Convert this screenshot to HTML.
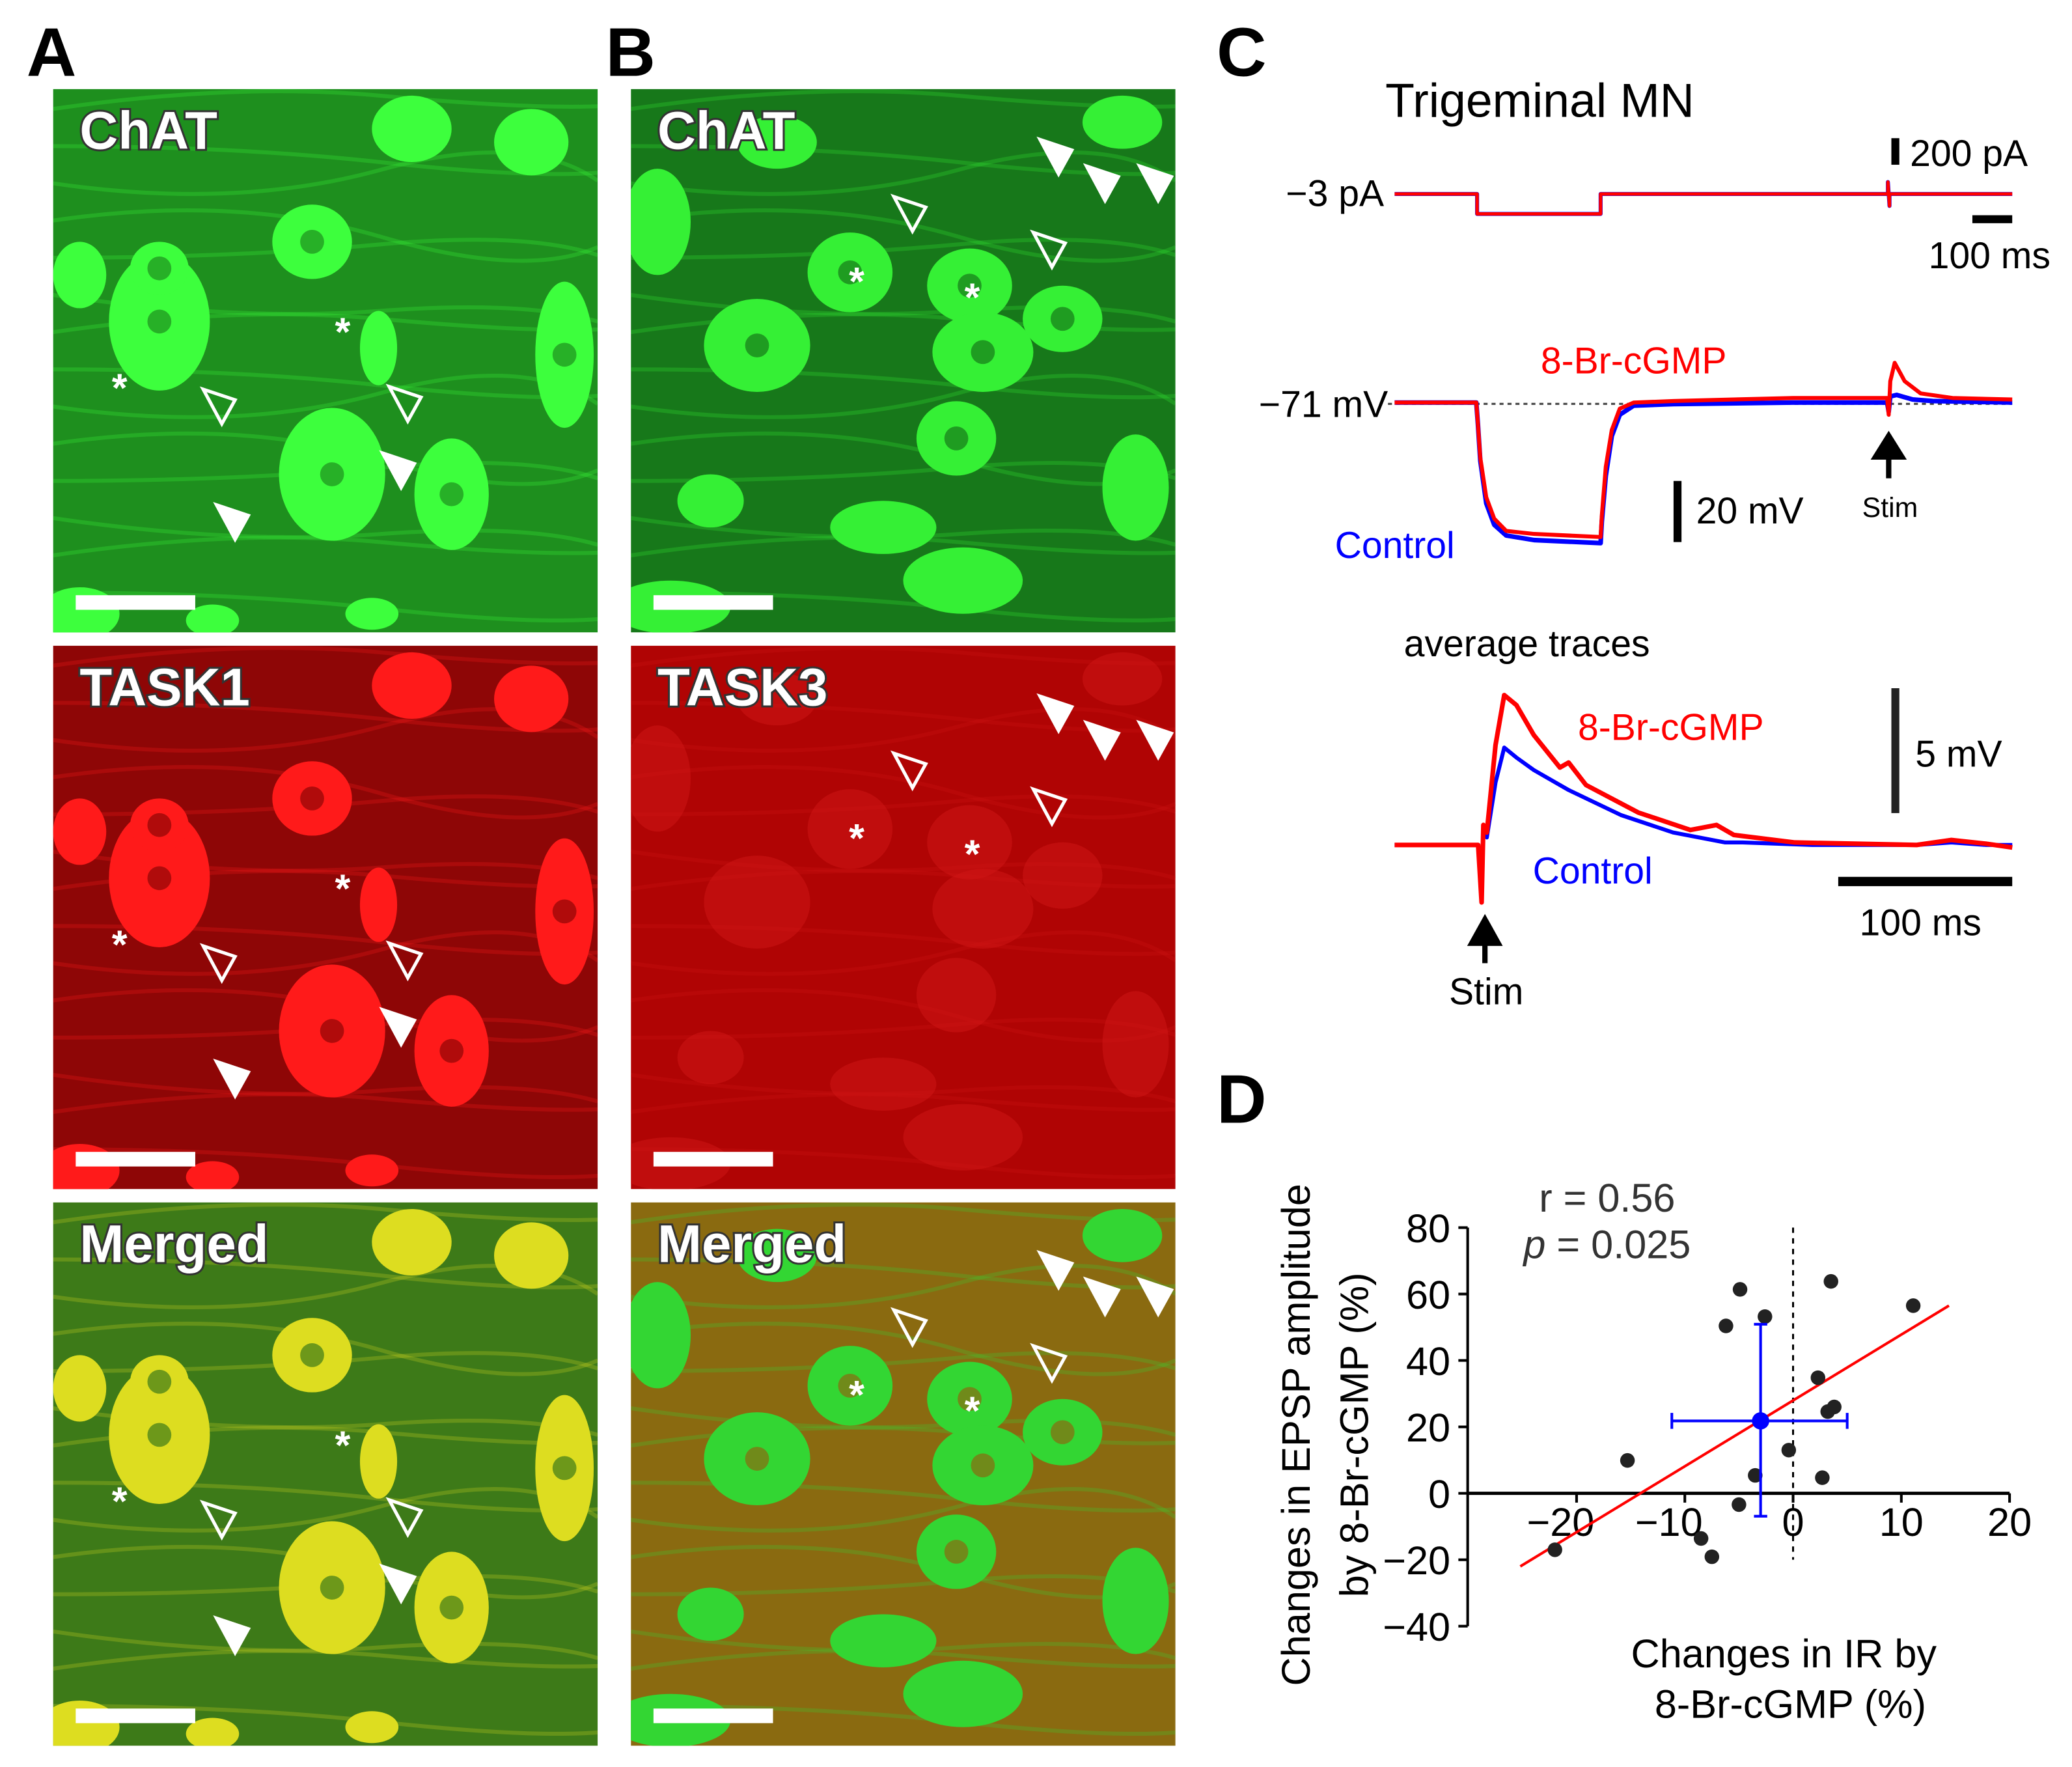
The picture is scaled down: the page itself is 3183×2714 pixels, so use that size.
<!DOCTYPE html>
<html><head><meta charset="utf-8"><style>
html,body{margin:0;padding:0;background:#fff}
svg{display:block}
text{font-family:"Liberation Sans",sans-serif}
.lbl{font-weight:bold;font-size:40px;fill:#fff;stroke:#333;stroke-width:3px;paint-order:stroke}
</style></head><body>
<svg id="fig" xmlns="http://www.w3.org/2000/svg" width="3183" height="2714" viewBox="0 0 1560 1330" preserveAspectRatio="none">
<defs id="defs"></defs>
<g id="imgs"></g>
<text x="20" y="57" font-size="52" font-weight="bold">A</text>
<text x="456" y="57" font-size="52" font-weight="bold">B</text>
<text x="916" y="57" font-size="52" font-weight="bold">C</text>
<text x="916" y="845" font-size="52" font-weight="bold">D</text>

<g id="panelC">
<text x="1043" y="88" font-size="36">Trigeminal MN</text>
<text x="1042" y="155" font-size="28" text-anchor="end">−3 pA</text>
<rect x="1424" y="104" width="6" height="20" fill="#000"/>
<text x="1438" y="125" font-size="28">200 pA</text>
<rect x="1485" y="162" width="30" height="6" fill="#000"/>
<text x="1452" y="202" font-size="28">100 ms</text>
<line x1="1045" y1="304" x2="1515" y2="304" stroke="#444" stroke-width="1.5" stroke-dasharray="3,3"/>
<text x="1045" y="314" font-size="28" text-anchor="end">−71 mV</text>
<text x="1160" y="281" font-size="28" fill="#f00">8-Br-cGMP</text>
<text x="1005" y="420" font-size="28" fill="#00f">Control</text>
<rect x="1260" y="362" width="6" height="46" fill="#000"/>
<text x="1277" y="394" font-size="28">20 mV</text>
<path d="M1422 360 L1422 340 M1412 344 L1422 328 L1432 344 Z" stroke="#000" stroke-width="4" fill="#000"/>
<text x="1423" y="389" font-size="21" text-anchor="middle">Stim</text>
<text x="1057" y="494" font-size="28">average traces</text>
<text x="1188" y="557" font-size="28" fill="#f00">8-Br-cGMP</text>
<text x="1154" y="665" font-size="28" fill="#00f">Control</text>
<rect x="1424" y="518" width="6" height="94" fill="#222"/>
<text x="1442" y="577" font-size="28">5 mV</text>
<rect x="1384" y="660" width="131" height="7" fill="#000"/>
<text x="1400" y="704" font-size="28">100 ms</text>
<path d="M1118 725 L1118 705 M1108 710 L1118 692 L1128 710 Z" stroke="#000" stroke-width="4" fill="#000"/>
<text x="1119" y="756" font-size="28" text-anchor="middle">Stim</text>
</g>

<g id="panelD">
<text x="1210" y="912" font-size="30" text-anchor="middle" fill="#333">r = 0.56</text>
<text x="1210" y="947" font-size="30" text-anchor="middle" fill="#333"><tspan font-style="italic">p</tspan> = 0.025</text>
<text transform="translate(986,1080) rotate(-90)" font-size="30" text-anchor="middle">Changes in EPSP amplitude</text>
<text transform="translate(1030,1080) rotate(-90)" font-size="30" text-anchor="middle">by 8-Br-cGMP (%)</text>
<text x="1343" y="1255" font-size="30" text-anchor="middle">Changes in IR by</text>
<text x="1348" y="1293" font-size="30" text-anchor="middle">8-Br-cGMP (%)</text>
</g>
</svg>
<script>
const NS="http://www.w3.org/2000/svg";
function mk(parent,tag,attrs){const e=document.createElementNS(NS,tag);for(const k in attrs)e.setAttribute(k,attrs[k]);parent.appendChild(e);return e;}

// ---------- Panel D data ----------
const irChange=[-22.0,-15.3,-4.9,-6.2,-2.6,3.5,11.1,2.3,3.8,3.2,-0.4,-3.5,2.7,-5.0,-8.5,-7.5];
const epspChange=[-17,9.9,61.4,50.4,53.2,63.8,56.5,34.8,26,24.6,13,5.4,4.7,-3.4,-13.6,-19.1];
const meanIR=-3.0, meanEPSP=21.8;
const semIR=[-11.2,5.0], semEPSP=[-6.9,50.9];
const fitX=[-25.2,14.4], fitY=[-22,56.5];
const xTicks=[-20,-10,0,10,20];
const yTicks=[-40,-20,0,20,40,60,80];
const dx=v=>1350+8.15*v, dy=v=>1124-2.5*v;
const D=document.getElementById('panelD');
let ax=mk(D,'line',{x1:1105,y1:dy(80),x2:1105,y2:dy(-40),stroke:'#000','stroke-width':2});


let xa=mk(D,'line',{x1:1105,y1:dy(0),x2:dx(20),y2:dy(0),stroke:'#000','stroke-width':2.5});


let zl=mk(D,'line',{x1:dx(0),y1:dy(80),x2:dx(0),y2:dy(-20),stroke:'#000','stroke-width':1.5,'stroke-dasharray':'4,4'});


yTicks.forEach(v=>{
 const t=mk(D,'line',{x1:1098,y1:dy(v),x2:1105,y2:dy(v),stroke:'#000','stroke-width':2});
 
 
 const l=mk(D,'text',{x:1092,y:dy(v)+11,'font-size':30,'text-anchor':'end'});l.textContent=String(v).replace('-','−');
 
 
});
xTicks.forEach(v=>{
 const t=mk(D,'line',{x1:dx(v),y1:dy(0),x2:dx(v),y2:dy(0)+7,stroke:'#000','stroke-width':2});
 
 
 const l=mk(D,'text',{x:dx(v)+(v<0?-12:0),y:dy(0)+32,'font-size':30,'text-anchor':'middle'});l.textContent=String(v).replace('-','−');
 
 
});
let fl=mk(D,'line',{x1:dx(fitX[0]),y1:dy(fitY[0]),x2:dx(fitX[1]),y2:dy(fitY[1]),stroke:'#f00','stroke-width':2});


irChange.forEach((v,i)=>{
 const c=mk(D,'circle',{cx:dx(v),cy:dy(epspChange[i]),r:5.5,fill:'#222'});
 
 
});
const eb=mk(D,'path',{d:`M${dx(semIR[0])} ${dy(meanEPSP)}H${dx(semIR[1])}M${dx(semIR[0])} ${dy(meanEPSP)-6}v12M${dx(semIR[1])} ${dy(meanEPSP)-6}v12M${dx(meanIR)} ${dy(semEPSP[0])}V${dy(semEPSP[1])}M${dx(meanIR)-5} ${dy(semEPSP[0])}h10M${dx(meanIR)-5} ${dy(semEPSP[1])}h10`,stroke:'#00f','stroke-width':2,fill:'none'});


const mc=mk(D,'circle',{cx:dx(meanIR),cy:dy(meanEPSP),r:6.5,fill:'#00f'});



// ---------- Panel C traces ----------
const curT=[0,207,207,517,517,1238,1238,1242,1242,1550];
const curV=[0,0,-1,-1,0,0,0.6,-0.6,0,0];
const ctlT=[0,205,209,215,230,250,280,350,517,520,530,545,565,600,700,1000,1236,1240,1244,1260,1300,1350,1550];
const ctlV=[-71,-71,-78,-90,-104,-111,-114.5,-116,-117,-110,-95,-82,-75,-72,-71.5,-71,-71,-74,-69,-68.5,-70,-70.5,-71];
const cgT=[0,205,209,215,230,250,280,350,517,520,530,545,565,600,700,1000,1236,1240,1244,1255,1280,1320,1400,1550];
const cgV=[-71,-71,-78,-89,-102,-109,-113,-114,-115,-108,-92,-80,-73,-71,-70.5,-69.5,-69.5,-75,-64,-58,-64,-68,-69.5,-70];
const avgCtlT=[0,48,50,51,53,58,63,70,80,100,130,160,190,200,240,300,320,340,355];
const avgCtlV=[0,0,-2.3,0.8,0.3,2.5,3.9,3.5,3.0,2.2,1.2,0.5,0.1,0.1,0,0,0.1,0,0];
const avgCgT=[0,48,50,51,53,58,63,70,80,95,100,110,140,170,185,195,230,300,320,340,355];
const avgCgV=[0,0,-2.3,0.8,0.5,4,6.0,5.6,4.4,3.1,3.3,2.4,1.3,0.6,0.8,0.4,0.1,0,0.2,0.05,-0.1];
const tx=t=>1050+0.3*t, cy=v=>146-v*15, vy=v=>303-(v+71)*2.3;
const ax2=t=>1050+1.31*t, ay2=v=>636-18.8*v;
const C=document.getElementById('panelC');
function trace(T,V,fx,fy,col,w,name){
 const p=mk(C,'path',{d:'M'+T.map((t,i)=>fx(t)+' '+fy(V[i])).join(' L'),stroke:col,'stroke-width':w,fill:'none','stroke-linejoin':'round'});
 
 
}
trace(curT,curV,tx,cy,'#00f',3,'current-trace-control');
trace(curT,curV,tx,cy,'#f00',2.5,'current-trace-8br');
trace(ctlT,ctlV,tx,vy,'#00f',3.5,'voltage-trace-control');
trace(cgT,cgV,tx,vy,'#f00',3,'voltage-trace-8br');
trace(avgCtlT,avgCtlV,ax2,ay2,'#00f',3,'average-trace-control');
trace(avgCgT,avgCgV,ax2,ay2,'#f00',3.5,'average-trace-8br');

// ---------- Micrographs ----------
const G=document.getElementById('imgs');
const DEF=document.getElementById('defs');
const cols=[40,475], rows=[67,486,905], W=410, H=409;
const cellsA=[[80,175,38,52],[195,115,30,28],[210,290,40,50],[300,305,28,42],[385,200,22,55],[80,135,22,20],[245,195,14,28],[270,30,30,25],[360,40,28,25],[20,140,20,25],[20,395,30,20],[120,400,20,12],[240,395,20,12]];
const cellsB=[[165,138,32,30],[255,148,32,28],[95,193,40,35],[265,198,38,30],[325,173,30,25],[245,263,30,28],[20,100,25,40],[30,390,45,20],[190,330,40,20],[250,370,45,25],[370,25,30,20],[110,40,30,20],[380,300,25,40],[60,310,25,20]];
const panelSpec=[
 [['ChAT','#1e8f1e','#3dff3d'],['TASK1','#8e0606','#ff1a1a'],['Merged','#3d7a18','#dddd20']],
 [['ChAT','#17781a','#35f035'],['TASK3','#b00404','#d01515'],['Merged','#8a6a10','#33d633']]
];
const arrowsA=[[165,305,'o'],[305,303,'o'],[300,353,'f'],[175,392,'f']];
const arrowsB=[[685,160,'o'],[790,187,'o'],[795,117,'f'],[830,137,'f'],[870,137,'f']];
const starsA=[[90,290],[258,248]], starsB=[[645,210],[732,222]];
let cid=0;
cols.forEach((x0,ci)=>rows.forEach((y0,ri)=>{
 const [lab,bg,fg]=panelSpec[ci][ri];
 const cp=mk(DEF,'clipPath',{id:'clip'+cid});
 mk(cp,'rect',{x:x0,y:y0,width:W,height:H});
 const g=mk(G,'g',{'clip-path':'url(#clip'+cid+')'});
 cid++;
 
 
 mk(g,'rect',{x:x0,y:y0,width:W,height:H,fill:bg});
 for(let k=0;k<14;k++){const yy=y0+15+k*28;mk(g,'path',{d:`M${x0} ${yy} q${W/3} ${(k%3-1)*20} ${W*0.6} ${(k%2?12:-10)} t${W*0.4} 8`,stroke:fg,'stroke-opacity':0.25,'stroke-width':3,fill:'none'});}
 (ci?cellsB:cellsA).forEach(c=>mk(g,'ellipse',{cx:x0+c[0],cy:y0+c[1],rx:c[2],ry:c[3],fill:fg,'fill-opacity':(ci==1&&ri==1)?0.5:1}));
 if(!(ci==1&&ri==1))(ci?cellsB:cellsA).slice(0,6).forEach(c=>mk(g,'circle',{cx:x0+c[0],cy:y0+c[1],r:9,fill:bg,'fill-opacity':0.7}));
 const dyOff=y0-67;
 (ci?arrowsB:arrowsA).forEach(a=>{const X=a[0],Y=a[1]+dyOff;
   const p=mk(g,'path',{d:`M${X-12} ${Y-12} L${X+12} ${Y-4} L${X+2} ${Y+14} Z`,fill:a[2]=='f'?'#fff':'none',stroke:'#fff','stroke-width':2.5});
   
   });
 (ci?starsB:starsA).forEach(s=>{const t=mk(g,'text',{x:s[0],y:s[1]+dyOff+12,'font-size':30,'font-weight':'bold',fill:'#fff','text-anchor':'middle'});t.textContent='*';
   
   });
 const t=mk(g,'text',{x:x0+20,y:y0+45,class:'lbl'});t.textContent=lab;
 
 
 const sb=mk(g,'rect',{x:x0+17,y:y0+381,width:90,height:11,fill:'#fff'});
 
 
}));
</script>
</body></html>
